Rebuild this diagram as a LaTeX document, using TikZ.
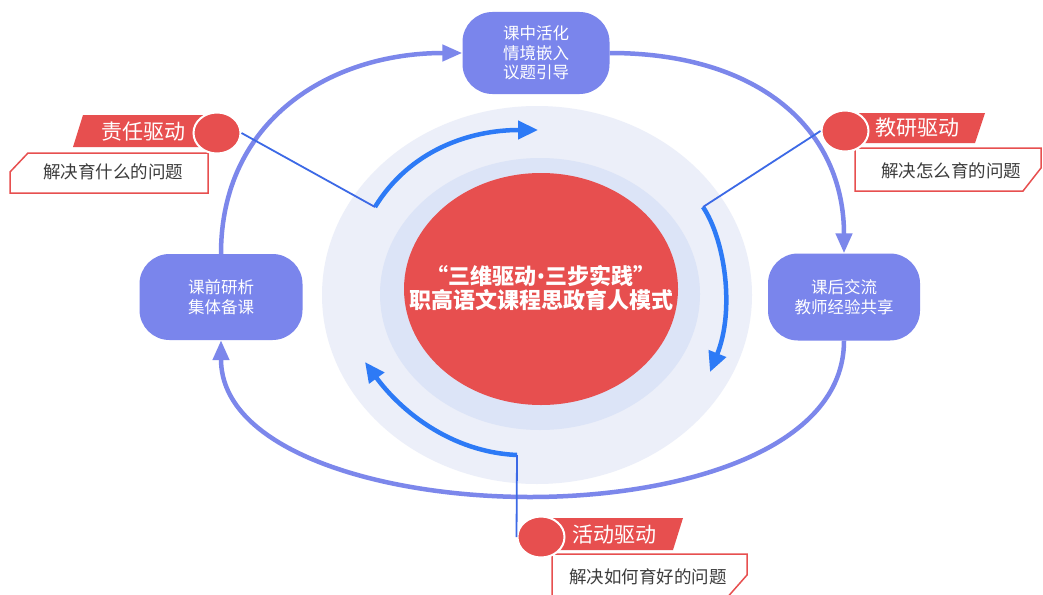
\documentclass[tikz,border=0pt]{standalone}
\usepackage{fontspec}
\setmainfont{Noto Sans CJK SC}
\newfontfamily\latinf{Noto Sans}
\usetikzlibrary{arrows.meta,shapes.geometric}
\definecolor{flowc}{RGB}{122,133,236}
\definecolor{loopc}{RGB}{124,135,235}
\definecolor{redc}{RGB}{231,79,79}
\definecolor{arcc}{RGB}{45,122,246}
\definecolor{thinc}{RGB}{60,105,230}
\definecolor{diskA}{RGB}{236,239,249}
\definecolor{diskB}{RGB}{220,228,247}
\definecolor{txtc}{RGB}{60,60,60}
\begin{document}
\begin{tikzpicture}[x=1pt,y=-1pt,
  flow/.style={fill=flowc, rounded corners=30pt, text=white, align=center, inner sep=0pt, font=\fontsize{16.5}{19.5}\selectfont},
  loopline/.style={draw=loopc, line width=4.5pt},
  arcline/.style={draw=arcc, line width=4.5pt},
  thinline/.style={draw=thinc, line width=1.8pt},
  drv/.style={ellipse, fill=redc, draw=white, line width=2pt, minimum width=47pt, minimum height=41pt, inner sep=0pt},
  banner/.style={fill=redc},
  bannertext/.style={text=white, font=\fontsize{21}{24}\selectfont, inner sep=0pt},
  qbox/.style={draw=redc, line width=1.5pt, fill=white},
  qtext/.style={text=txtc, font=\fontsize{17.5}{20}\selectfont, inner sep=0pt},
  looptip/.style={-{Triangle[length=20pt,width=16pt]}},
  arctip/.style={-{Triangle[length=20pt,width=18pt]}},
  coretext/.style={text=white, align=center, inner sep=0pt, font=\fontsize{22}{24.5}\selectfont\bfseries}
]
\useasboundingbox (0,0) rectangle (1043,594);
\clip (0,0) rectangle (1043,594);
\fill[white] (0,0) rectangle (1043,594);

% background disks and core
\fill[diskA] (537,295) ellipse [x radius=215pt, y radius=189pt];
\fill[diskB] (540,294) ellipse [x radius=160pt, y radius=136pt];
\fill[redc] (541,289) ellipse [x radius=137pt, y radius=116pt];
\node[coretext] (core) at (541,288) {“三维驱动{\latinf\bfseries •}三步实践”\\职高语文课程思政育人模式};

% inner arcs
\coordinate (a1s) at (375,207);
\coordinate (a1e) at (538,130);
\coordinate (a2s) at (703,207);
\coordinate (a2e) at (710,372);
\coordinate (a3s) at (517,455);
\coordinate (a3e) at (365,362);
\draw[arcline, arctip] (a1s) .. controls (410,150) and (470,130) .. (a1e);
\draw[arcline, arctip] (a2s) .. controls (725,240) and (735,310) .. (a2e);
\draw[arcline, arctip] (a3s) .. controls (450,452) and (400,410) .. (a3e);

% flow nodes
\node[flow, minimum width=163pt, minimum height=86pt] (pre) at (221,297) {课前研析\\集体备课};
\node[flow, minimum width=147pt, minimum height=82pt] (mid) at (536,53) {课中活化\\情境嵌入\\议题引导};
\node[flow, minimum width=152pt, minimum height=87pt] (post) at (844,297) {课后交流\\教师经验共享};

% outer loop
\draw[loopline, looptip] (pre.north) .. controls (221,120) and (330,53) .. (mid.west);
\draw[loopline, looptip] (mid.east) .. controls (760,53) and (844,130) .. (post.north);
\draw[loopline, looptip] (post.south) .. controls (844,450) and (680,497) .. (530,497)
  .. controls (380,497) and (221,450) .. (pre.south);

% driver 1
\fill[banner] (83,115) -- (215,115) -- (215,147) -- (73,147) -- cycle;
\node[bannertext] (t1) at (143,132) {责任驱动};
\draw[qbox] (28,153) -- (208,153) -- (208,193) -- (10,193) -- (10,172) -- cycle;
\node[qtext] (q1) at (113,172) {解决育什么的问题};
\node[drv] (d1) at (217,133) {};
\draw[thinline] (d1.east) -- (a1s);

% driver 2
\fill[banner] (850,113) -- (985,113) -- (975,143) -- (850,143) -- cycle;
\node[bannertext] (t2) at (917,128) {教研驱动};
\draw[qbox] (855,148) -- (1041,148) -- (1041,168) -- (1023,191) -- (855,191) -- cycle;
\node[qtext] (q2) at (951,171) {解决怎么育的问题};
\node[drv] (d2) at (845,131) {};
\draw[thinline] (d2.west) -- (a2s);

% driver 3
\fill[banner] (545,518) -- (683,518) -- (673,550) -- (545,550) -- cycle;
\node[bannertext] (t3) at (614,535) {活动驱动};
\draw[qbox] (552,604) -- (552,554) -- (747,554) -- (747,575) -- (725,600);
\node[qtext] (q3) at (648,577) {解决如何育好的问题};
\node[drv] (d3) at (541,537) {};
\draw[thinline] (d3.west) -- (a3s);
\end{tikzpicture}
\end{document}
